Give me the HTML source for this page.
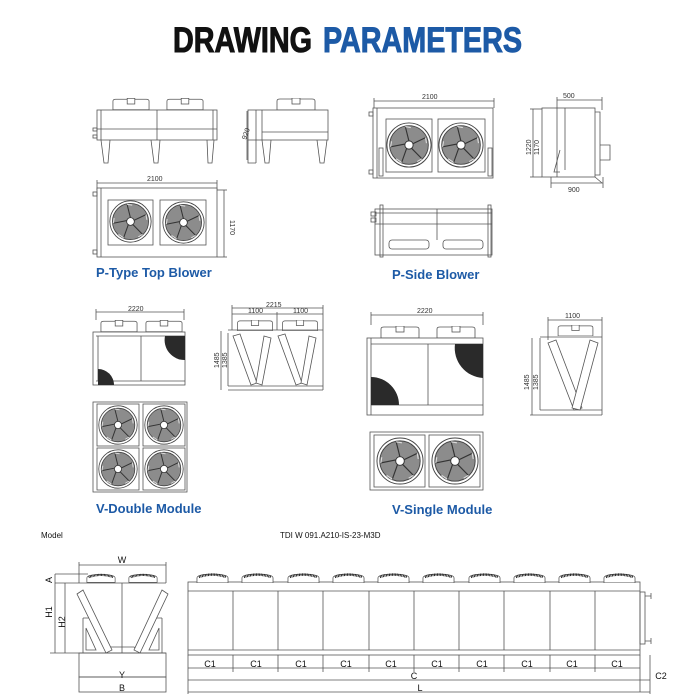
<!DOCTYPE html>
<html><head><meta charset="utf-8"><style>
html,body{margin:0;padding:0;background:#fff;width:700px;height:700px;overflow:hidden}
svg{display:block}
text{font-family:"Liberation Sans",sans-serif}
</style></head><body>
<svg width="700" height="700" viewBox="0 0 700 700" xmlns="http://www.w3.org/2000/svg">
<defs>
<symbol id="fan" viewBox="-25 -25 50 50">
<circle r="24" fill="#fff" stroke="#444" stroke-width="1"/>
<circle r="21" fill="#8c8c8c" stroke="#444" stroke-width="1"/>
<g stroke="#333" stroke-width="1.2" fill="none">
<path d="M0 -4 L-4 -20 M3.8 -1.2 L18 -8 M2.4 3.2 L14 15 M-2.4 3.2 L-8 19 M-3.8 -1.2 L-20 2"/>
<path d="M-4 -20 L2 -19 M18 -8 L19 -2 M14 15 L9 18 M-8 19 L-14 15 M-20 2 L-19 -4" stroke="#ddd"/>
</g>
<circle r="4.5" fill="#fff" stroke="#333"/>
</symbol>
<symbol id="tfan" viewBox="0 0 40 12">
<path d="M1 12 V3 Q1 1 4 1 H36 Q39 1 39 3 V12 Z" fill="#fff" stroke="#555" stroke-width="0.8"/>
<rect x="16" y="0" width="8" height="6" fill="#fff" stroke="#555" stroke-width="0.8"/>
</symbol>
<symbol id="bfan" viewBox="0 0 34 10">
<path d="M1 10 V5 Q1 1 17 1 Q33 1 33 5 V10 Z" fill="#fff" stroke="#555" stroke-width="0.8"/>
<path d="M3 4 Q17 -1 31 4" stroke="#222" stroke-width="2.5" fill="none" stroke-dasharray="1 0.6"/>
</symbol>
</defs>

<!-- Title -->
<text x="173" y="52" font-size="35" font-weight="bold" textLength="139" lengthAdjust="spacingAndGlyphs" fill="#111" stroke="#111" stroke-width="1">DRAWING</text>
<text x="323" y="52" font-size="35" font-weight="bold" textLength="199" lengthAdjust="spacingAndGlyphs" fill="#1d5aa6" stroke="#1d5aa6" stroke-width="1">PARAMETERS</text>

<g fill="none" stroke="#555" stroke-width="0.8">
<!-- P-type front -->
<use href="#tfan" x="112" y="98" width="38" height="12"/>
<use href="#tfan" x="166" y="98" width="38" height="12"/>
<rect x="97" y="110" width="120" height="30" fill="#fff"/>
<line x1="157" y1="110" x2="157" y2="140"/><line x1="97" y1="129" x2="217" y2="129"/>
<line x1="101" y1="110" x2="101" y2="140"/><line x1="213" y1="110" x2="213" y2="140"/>
<path d="M101 140 L104 163 H108 L110 140 M151 140 L154 163 H158 L160 140 M207 140 L208 163 H212 L214 140"/>
<rect x="93" y="128" width="4" height="3"/><rect x="93" y="135" width="4" height="3"/>
<!-- P-type side -->
<use href="#tfan" x="275" y="98" width="42" height="12"/>
<rect x="248" y="110" width="80" height="30" fill="#fff"/>
<line x1="256" y1="110" x2="256" y2="163"/><line x1="262" y1="110" x2="262" y2="140"/>
<line x1="262" y1="132" x2="328" y2="132"/>
<path d="M248 140 V163 H256 M262 140 L265 163 H269 L271 140 M317 140 L320 163 H324 L327 140"/>
<line x1="247" y1="111" x2="247" y2="160"/>
<!-- P-type plan -->
<line x1="97" y1="183" x2="217" y2="183"/><line x1="97" y1="180" x2="97" y2="190"/><line x1="217" y1="180" x2="217" y2="190"/>
<rect x="97" y="188" width="120" height="69" fill="#fff"/>
<line x1="101" y1="188" x2="101" y2="257"/>
<rect x="108" y="200" width="45" height="45"/><rect x="160" y="200" width="46" height="45"/>
<line x1="224" y1="190" x2="224" y2="257"/><line x1="217" y1="190" x2="227" y2="190"/><line x1="217" y1="257" x2="227" y2="257"/>
<rect x="93" y="192" width="4" height="4"/><rect x="93" y="250" width="4" height="4"/>

<!-- P-side front -->
<line x1="374" y1="101" x2="494" y2="101"/><line x1="374" y1="98" x2="374" y2="108"/><line x1="494" y1="98" x2="494" y2="108"/>
<rect x="373" y="108" width="120" height="70" fill="#fff"/>
<line x1="377" y1="108" x2="377" y2="178"/>
<rect x="386" y="119" width="46" height="53"/><rect x="438" y="119" width="47" height="53"/>
<rect x="379" y="148" width="4" height="28"/><rect x="488" y="148" width="4" height="28"/>
<rect x="369" y="112" width="4" height="4"/><rect x="369" y="170" width="4" height="4"/>
<!-- P-side side -->
<line x1="557" y1="100" x2="602" y2="100"/><line x1="557" y1="97" x2="557" y2="110"/><line x1="602" y1="97" x2="602" y2="110"/>
<rect x="542" y="108" width="53" height="69" fill="#fff"/>
<line x1="557" y1="108" x2="557" y2="177"/><line x1="565" y1="108" x2="565" y2="170"/>
<path d="M560 150 L554 172 H560 M595 112 H600 V175 H595 M600 145 H610 V160 H600 M595 177 L602 183"/>
<line x1="533" y1="109" x2="533" y2="177"/><line x1="530" y1="109" x2="542" y2="109"/><line x1="530" y1="177" x2="542" y2="177"/>
<line x1="551" y1="183" x2="603" y2="183"/><line x1="551" y1="177" x2="551" y2="188"/><line x1="603" y1="177" x2="603" y2="188"/>
<!-- P-side bottom -->
<rect x="375" y="209" width="117" height="46" fill="#fff"/>
<line x1="375" y1="213" x2="492" y2="213"/><line x1="375" y1="224" x2="492" y2="224"/><line x1="437" y1="209" x2="437" y2="240"/>
<rect x="380" y="205" width="3" height="52"/><rect x="488" y="205" width="3" height="52"/>
<rect x="389" y="240" width="40" height="9" rx="3"/><rect x="443" y="240" width="40" height="9" rx="3"/>
<rect x="371" y="212" width="5" height="4"/><rect x="371" y="218" width="5" height="4"/>

<!-- V-double front -->
<line x1="96" y1="312" x2="184" y2="312"/><line x1="96" y1="309" x2="96" y2="320"/><line x1="184" y1="309" x2="184" y2="320"/>
<use href="#tfan" x="100" y="320" width="38" height="12"/><use href="#tfan" x="145" y="320" width="38" height="12"/>
<rect x="93" y="332" width="92" height="53" fill="#fff"/>
<line x1="96" y1="336" x2="185" y2="336"/><line x1="96" y1="381" x2="185" y2="381"/><line x1="141" y1="336" x2="141" y2="381"/>
<line x1="98" y1="336" x2="98" y2="381"/>
<!-- V-double side -->
<line x1="232" y1="308" x2="323" y2="308"/><line x1="232" y1="314" x2="323" y2="314"/><line x1="277" y1="312" x2="277" y2="330"/>
<line x1="232" y1="305" x2="232" y2="330"/><line x1="323" y1="305" x2="323" y2="390"/>
<use href="#tfan" x="235" y="320" width="40" height="11"/><use href="#tfan" x="280" y="320" width="40" height="11"/>
<line x1="228" y1="330" x2="323" y2="330"/><line x1="228" y1="386" x2="323" y2="386"/><line x1="228" y1="390" x2="323" y2="390"/>
<line x1="221" y1="331" x2="221" y2="390"/><line x1="228" y1="333" x2="228" y2="386"/>
<!-- V-double plan -->
<rect x="93" y="402" width="94" height="90" fill="#fff"/>
<rect x="97" y="404" width="42" height="42"/><rect x="143" y="404" width="42" height="42"/>
<rect x="97" y="448" width="42" height="42"/><rect x="143" y="448" width="42" height="42"/>

<!-- V-single front -->
<line x1="371" y1="315" x2="483" y2="315"/><line x1="371" y1="312" x2="371" y2="325"/><line x1="483" y1="312" x2="483" y2="325"/>
<use href="#tfan" x="375" y="326" width="50" height="12"/><use href="#tfan" x="431" y="326" width="50" height="12"/>
<rect x="367" y="338" width="116" height="77" fill="#fff"/>
<line x1="371" y1="344" x2="483" y2="344"/><line x1="371" y1="405" x2="483" y2="405"/><line x1="428" y1="344" x2="428" y2="405"/>
<line x1="371" y1="338" x2="371" y2="415"/>
<!-- V-single side -->
<line x1="548" y1="320" x2="602" y2="320"/><line x1="548" y1="317" x2="548" y2="340"/><line x1="602" y1="317" x2="602" y2="415"/>
<use href="#tfan" x="552" y="325" width="47" height="11"/>
<line x1="540" y1="337" x2="602" y2="337"/><line x1="540" y1="410" x2="602" y2="410"/><line x1="530" y1="415" x2="602" y2="415"/>
<line x1="532" y1="338" x2="532" y2="415"/><line x1="540" y1="338" x2="540" y2="410"/>
<!-- V-single plan -->
<rect x="370" y="432" width="113" height="58" fill="#fff"/>
<rect x="374" y="435" width="51" height="52"/><rect x="429" y="435" width="51" height="52"/>
</g>

<!-- V coils -->
<g fill="#fff" stroke="#555" stroke-width="0.8">
<path d="M233 336 L240 334 L257 383 L251 385 Z"/><path d="M264 336 L271 338 L262 385 L256 383 Z"/>
<path d="M278 336 L285 334 L302 383 L296 385 Z"/><path d="M309 336 L316 338 L307 385 L301 383 Z"/>
<path d="M548 343 L556 340 L582 408 L574 410 Z"/><path d="M590 340 L598 343 L580 410 L572 408 Z"/>
</g>

<!-- black quarter circles -->
<path d="M98 369 A16 16 0 0 1 114 385 L98 385 Z" fill="#2a2a2a"/>
<path d="M185 336 L185 360 A20 20 0 0 1 165 336 Z" fill="#2a2a2a"/>
<path d="M371 377 A28 28 0 0 1 399 405 L371 405 Z" fill="#2a2a2a"/>
<path d="M483 344 L483 378 A30 30 0 0 1 455 344 Z" fill="#2a2a2a"/>

<!-- fans -->
<use href="#fan" x="109" y="200" width="43" height="43"/>
<use href="#fan" x="162" y="201" width="43" height="43"/>
<use href="#fan" x="386" y="122" width="46" height="46"/>
<use href="#fan" x="438" y="122" width="46" height="46"/>
<use href="#fan" x="98" y="405" width="40" height="40"/>
<use href="#fan" x="144" y="405" width="40" height="40"/>
<use href="#fan" x="98" y="449" width="40" height="40"/>
<use href="#fan" x="144" y="449" width="40" height="40"/>
<use href="#fan" x="376" y="437" width="48" height="48"/>
<use href="#fan" x="431" y="437" width="48" height="48"/>

<!-- dimension texts -->
<g font-size="7" fill="#333">
<text x="147" y="181">2100</text>
<text x="230" y="220" transform="rotate(90 230 220)">1170</text>
<text x="422" y="99">2100</text>
<text x="563" y="98">500</text>
<text x="568" y="192">900</text>
<text x="531" y="155" transform="rotate(-90 531 155)">1220</text>
<text x="539" y="155" transform="rotate(-90 539 155)">1170</text>
<text x="128" y="311">2220</text>
<text x="266" y="307">2215</text>
<text x="248" y="313">1100</text><text x="293" y="313">1100</text>
<text x="219" y="368" transform="rotate(-90 219 368)">1485</text>
<text x="227" y="368" transform="rotate(-90 227 368)">1385</text>
<text x="417" y="313">2220</text>
<text x="565" y="318">1100</text>
<text x="529" y="390" transform="rotate(-90 529 390)">1485</text>
<text x="538" y="390" transform="rotate(-90 538 390)">1385</text>
<text x="246" y="140" transform="rotate(-70 246 140)">920</text>
</g>

<!-- labels -->
<g font-size="13" font-weight="bold" fill="#1d5aa6">
<text x="96" y="277">P-Type Top Blower</text>
<text x="392" y="279">P-Side Blower</text>
<text x="96" y="513">V-Double Module</text>
<text x="392" y="514">V-Single Module</text>
</g>

<!-- Bottom section -->
<g font-size="8" fill="#111">
<text x="41" y="538">Model</text>
<text x="280" y="538">TDI W 091.A210-IS-23-M3D</text>
</g>
<g fill="none" stroke="#555" stroke-width="0.8">
<!-- left view -->
<line x1="79" y1="565" x2="166" y2="565"/><line x1="79" y1="562" x2="79" y2="583"/><line x1="166" y1="562" x2="166" y2="583"/>
<line x1="55" y1="574" x2="88" y2="574"/><line x1="55" y1="583" x2="166" y2="583"/>
<line x1="55" y1="574" x2="55" y2="653"/><line x1="65" y1="583" x2="65" y2="653"/>
<line x1="50" y1="653" x2="166" y2="653"/>
<line x1="122" y1="583" x2="122" y2="653"/>
<path d="M83 618 H91 M83 618 V653 M86 628 L96 650 H86 Z M162 618 H154 M162 618 V653 M159 628 L149 650 H159 Z"/>
<path d="M105 651 L110 647 H134 L140 651"/>
<rect x="79" y="653" width="87" height="24"/>
<rect x="79" y="677" width="87" height="15"/>
</g>
<g fill="#fff" stroke="#555" stroke-width="0.8">
<path d="M77 594 L83 590 L112 650 L106 653 Z"/><path d="M162 590 L168 594 L140 653 L134 650 Z"/>
</g>
<g fill="none" stroke="#555" stroke-width="0.8">
<!-- long view -->
<rect x="188" y="582" width="452" height="73" fill="#fff"/>
<line x1="188" y1="591" x2="640" y2="591"/><line x1="188" y1="650" x2="640" y2="650"/>
<path d="M233 591 V650 M278 591 V650 M323 591 V650 M369 591 V650 M414 591 V650 M459 591 V650 M504 591 V650 M550 591 V650 M595 591 V650"/>
<path d="M188 655 V672 M233 655 V672 M278 655 V672 M323 655 V672 M369 655 V672 M414 655 V672 M459 655 V672 M504 655 V672 M550 655 V672 M595 655 V672 M640 655 V692"/>
<line x1="188" y1="668" x2="640" y2="668"/>
<line x1="188" y1="680" x2="650" y2="680"/>
<line x1="188" y1="692" x2="650" y2="692"/><line x1="188" y1="672" x2="188" y2="694"/><line x1="650" y1="655" x2="650" y2="694"/>
<rect x="640" y="592" width="5" height="52"/>
<path d="M645 596 H651 M651 593 V599 M645 641 H651 M651 638 V644"/>
</g>
<g>
<use href="#bfan" x="86" y="573" width="30" height="10"/><use href="#bfan" x="128" y="573" width="30" height="10"/>
<use href="#bfan" x="196" y="573" width="33" height="10"/><use href="#bfan" x="241" y="573" width="33" height="10"/>
<use href="#bfan" x="287" y="573" width="33" height="10"/><use href="#bfan" x="332" y="573" width="33" height="10"/>
<use href="#bfan" x="377" y="573" width="33" height="10"/><use href="#bfan" x="422" y="573" width="33" height="10"/>
<use href="#bfan" x="468" y="573" width="33" height="10"/><use href="#bfan" x="513" y="573" width="33" height="10"/>
<use href="#bfan" x="558" y="573" width="33" height="10"/><use href="#bfan" x="603" y="573" width="33" height="10"/>
</g>
<g font-size="9" fill="#111" text-anchor="middle">
<text x="122" y="563">W</text>
<text x="122" y="678">Y</text>
<text x="122" y="691">B</text>
<text x="52" y="580" transform="rotate(-90 52 580)">A</text>
<text x="52" y="612" transform="rotate(-90 52 612)">H1</text>
<text x="65" y="622" transform="rotate(-90 65 622)">H2</text>
<text x="210" y="667">C1</text><text x="256" y="667">C1</text><text x="301" y="667">C1</text>
<text x="346" y="667">C1</text><text x="391" y="667">C1</text><text x="437" y="667">C1</text>
<text x="482" y="667">C1</text><text x="527" y="667">C1</text><text x="572" y="667">C1</text>
<text x="617" y="667">C1</text>
<text x="414" y="679">C</text>
<text x="420" y="691">L</text>
<text x="661" y="679">C2</text>
</g>
</svg>
</body></html>
